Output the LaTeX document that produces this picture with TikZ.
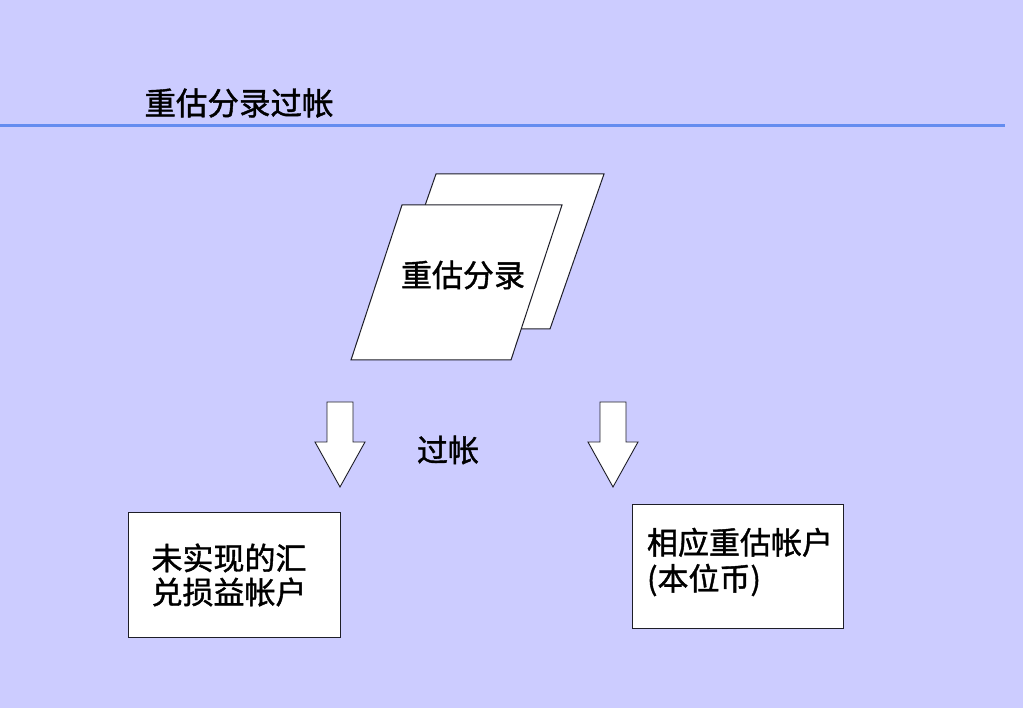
\documentclass[tikz,border=0pt]{standalone}
\usepackage{fontspec}
\setmainfont[FakeBold=1.3,AutoFakeBold=1.3]{Noto Sans CJK SC}
\usetikzlibrary{calc}
\definecolor{bgcol}{RGB}{204,204,255}
\definecolor{rulecol}{RGB}{100,140,240}
\definecolor{edgecol}{RGB}{30,30,40}
\begin{document}
\begin{tikzpicture}[x=1pt,y=-1pt,
  txt/.style={inner sep=0pt,font=\fontsize{31}{34}\selectfont,text=black},
  sheet/.style={draw=edgecol,fill=white,line width=1pt,line join=miter},
  acct/.style={draw=edgecol,fill=white,line width=1pt},
  blockarrow/.style={draw=edgecol,fill=white,line width=0.9pt,line join=miter}]
\useasboundingbox (0,0) rectangle (1023,708);
\fill[bgcol] (0,0) rectangle (1023,708);
% title and rule
\node[txt,font=\fontsize{31.5}{34}\selectfont] (title) at (239,103) {重估分录过帐};
\draw[rulecol,line width=3pt] (0,126) -- (1005,126);
% stacked sheets
\draw[sheet] (436,174) -- (604,174) -- (550,329) -- (382,329) -- cycle;
\draw[sheet] (402,205) -- (562,205) -- (511,360) -- (351,360) -- cycle;
\node[txt] (entry) at (463,275) {重估分录};
% block arrows
\coordinate (la) at (340,402);
\coordinate (ra) at (613,402);
\draw[blockarrow] ($(la)+(-13,0)$) -- ($(la)+(13,0)$) -- ($(la)+(13,40)$) -- ($(la)+(25,40)$)
  -- ($(la)+(0,85)$) -- ($(la)+(-25,40)$) -- ($(la)+(-13,40)$) -- cycle;
\draw[blockarrow] ($(ra)+(-13,0)$) -- ($(ra)+(13,0)$) -- ($(ra)+(13,40)$) -- ($(ra)+(25,40)$)
  -- ($(ra)+(0,85)$) -- ($(ra)+(-25,40)$) -- ($(ra)+(-13,40)$) -- cycle;
\node[txt] (post) at (448,450) {过帐};
% account boxes
\draw[acct] (128,512) rectangle (340,637);
\node[txt,align=left,font=\fontsize{31}{34}\selectfont] (lossacct) at (229,575) {未实现的汇\\兑损益帐户};
\draw[acct] (632,504) rectangle (843,628);
\node[txt,align=left,font=\fontsize{31}{36}\selectfont] (revacct) at (740,562) {相应重估帐户\\(本位币)};
\end{tikzpicture}
\end{document}
